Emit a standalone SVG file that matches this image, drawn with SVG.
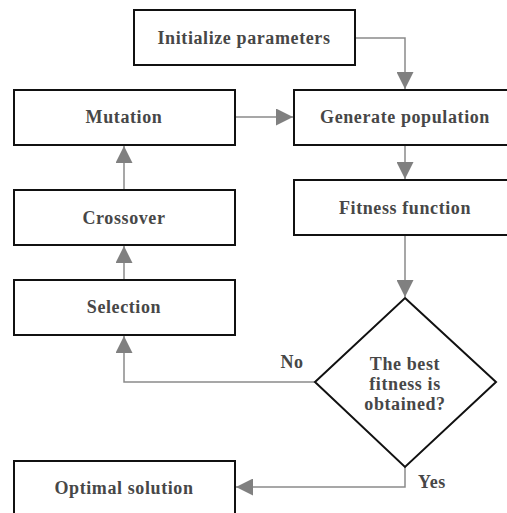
<svg xmlns="http://www.w3.org/2000/svg" width="507" height="513" viewBox="0 0 507 513">
<defs>
<marker id="ah" viewBox="0 0 10 10" refX="10" refY="5" markerWidth="17" markerHeight="17" markerUnits="userSpaceOnUse" orient="auto">
<path d="M0,0 L10,5 L0,10 Z" fill="#808080"/>
</marker>
<style>
.box{fill:#fff;stroke:#111;stroke-width:2}
.t{font-family:"Liberation Serif","Times New Roman",serif;font-weight:bold;font-size:18px;letter-spacing:0.6px;fill:#474747;text-anchor:middle;dominant-baseline:central}
.c{fill:none;stroke:#8a8a8a;stroke-width:1.5}
</style>
</defs>
<rect width="507" height="513" fill="#fff"/>
<g id="connectors">
<path class="c" d="M355,38 H405 V89" marker-end="url(#ah)"/>
<path class="c" d="M235,117 H293" marker-end="url(#ah)"/>
<path class="c" d="M405,145 V179" marker-end="url(#ah)"/>
<path class="c" d="M405,235 V297" marker-end="url(#ah)"/>
<path class="c" d="M124,190 V146" marker-end="url(#ah)"/>
<path class="c" d="M124,280 V246" marker-end="url(#ah)"/>
<path class="c" d="M315,382 H124 V336" marker-end="url(#ah)"/>
<path class="c" d="M405,467 V487 H236" marker-end="url(#ah)"/>
</g>
<g id="init"><rect class="box" x="134" y="10" width="221" height="55"/><text class="t" x="244" y="38">Initialize parameters</text></g>
<g id="mutation"><rect class="box" x="14" y="90" width="221" height="55"/><text class="t" x="124" y="117">Mutation</text></g>
<g id="generate"><rect class="box" x="294" y="90" width="222" height="55"/><text class="t" x="405" y="117">Generate population</text></g>
<g id="fitness"><rect class="box" x="294" y="180" width="222" height="55"/><text class="t" x="405" y="208">Fitness function</text></g>
<g id="crossover"><rect class="box" x="14" y="190" width="221" height="55"/><text class="t" x="124" y="218">Crossover</text></g>
<g id="selection"><rect class="box" x="14" y="280" width="221" height="55"/><text class="t" x="124" y="307">Selection</text></g>
<g id="decision"><polygon class="box" points="405,298 496,382 405,467 315,382"/>
<text class="t" x="405" y="364">The best</text><text class="t" x="405" y="384">fitness is</text><text class="t" x="405" y="404">obtained?</text></g>
<g id="optimal"><rect class="box" x="14" y="461" width="221" height="60"/><text class="t" x="124" y="488">Optimal solution</text></g>
<text class="t" x="292" y="362">No</text>
<text class="t" x="432" y="482">Yes</text>
</svg>
